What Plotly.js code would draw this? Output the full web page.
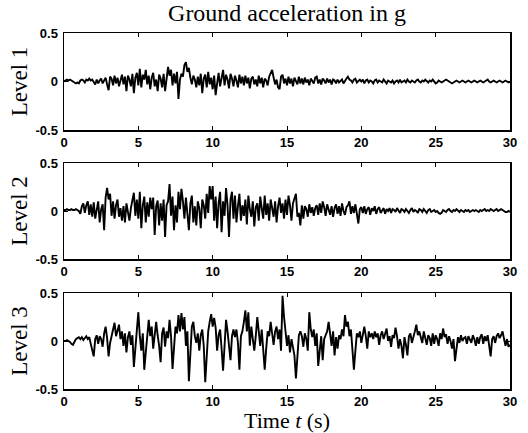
<!DOCTYPE html>
<html>
<head>
<meta charset="utf-8">
<script src="https://cdn.plot.ly/plotly-3.0.1.min.js"></script>
<style>html,body{margin:0;padding:0;background:#fff;}#chart{width:528px;height:433px;}</style>
</head>
<body>
<div id="chart"></div>
<script>
// Sampling step of the records (s)
const dt = 0.1;

// Ground acceleration (g), level 1, every 0.1 s
const level1 = [
 0, 0.01, 0.02, 0.01, 0.02, 0.01, 0, -0.01, -0.02, -0.01,
 -0.02, 0.01, 0.02, 0.01, -0.01, 0.02, 0.01, 0.03, 0.01, 0.02,
 -0.01, -0.03, 0.02, -0.02, 0.01, 0.03, -0.02, 0.01, 0.04, -0.03,
 -0.09, 0.05, 0.03, -0.04, 0.06, -0.02, 0.04, -0.05, 0.02, 0.07,
 -0.03, 0.05, -0.1, 0.06, 0.02, -0.05, 0.08, -0.12, 0.04, 0.09,
 -0.04, 0.13, -0.06, 0.07, 0.02, 0.12, -0.03, 0.06, -0.08, 0.04,
 0.09, -0.05, 0.02, -0.1, 0.07, 0.03, -0.06, 0.08, -0.1, 0.05,
 0.15, 0.06, 0.12, -0.04, 0.08, -0.02, 0.1, -0.18, 0.02, 0.08,
 0.05, 0.17, 0.2, 0.1, 0.14, 0.04, -0.03, 0.06, 0.02, -0.06,
 0.05, -0.04, 0.08, -0.12, 0.03, 0.07, -0.06, 0.1, -0.03, 0.04,
 -0.08, 0.06, -0.14, -0.02, 0.09, -0.05, 0.03, 0.12, -0.04, 0.07,
 0.02, -0.07, 0.08, 0.03, -0.05, 0.06, 0.01, -0.06, 0.07, -0.02,
 0.05, -0.04, 0.06, -0.02, 0.04, -0.07, 0.03, 0.05, -0.03, 0.02,
 -0.05, 0.06, -0.02, 0.04, -0.06, 0.03, 0.01, -0.04, 0.05, 0.08,
 0.12, 0.04, -0.03, 0.02, -0.06, -0.08, 0.05, 0.07, -0.02, 0.03,
 -0.04, 0.05, -0.02, 0.03, -0.05, 0.04, 0.01, -0.03, 0.05, -0.02,
 0.03, -0.03, 0.04, -0.01, 0.02, -0.04, 0.03, 0.01, -0.02, 0.04,
 0.05, -0.02, 0.02, -0.03, 0.03, 0.01, -0.02, 0.03, -0.01, 0.02,
 -0.03, 0.02, 0.01, -0.02, 0.02, -0.01, 0.01, 0.02, -0.02, 0.01,
 0.03, 0.05, 0.02, 0.01, -0.01, 0.02, 0.03, -0.01, 0.01, 0.02,
 0.0, 0.02, -0.02, 0.01, 0.02, -0.01, 0.01, 0.0, -0.02, 0.01,
 0.02, -0.01, 0.01, 0.0, -0.01, 0.02, 0.0, -0.02, 0.01, 0.0,
 -0.01, 0.01, -0.02, 0.0, 0.01, -0.01, 0.02, -0.01, 0.0, 0.01,
 -0.01, 0.02, 0.0, -0.01, 0.01, 0.0, -0.01, 0.01, 0.02, 0.0,
 -0.01, 0.01, 0.0, 0.02, 0.0, -0.01, 0.01, 0.0, 0.02, 0.0,
 -0.02, -0.01, 0.01, 0.0, -0.01, 0.0, 0.01, 0.02, 0.01, 0.0,
 -0.01, -0.02, -0.01, 0.0, 0.01, 0.0, -0.01, 0.0, 0.01, 0.0,
 -0.01, 0.0, 0.01, 0.0, -0.01, 0.0, 0.01, 0.0, -0.01, 0.0,
 0.01, 0.0, -0.01, 0.0, 0.01, 0.02, 0.0, -0.01, 0.0, 0.01,
 0.0, -0.01, 0.0, 0.01, 0.0, -0.01, 0.0, 0.01, 0.0, -0.01, 0.0
];

// Level 2
const level2 = [
 0.01, 0.01, 0.02, 0.01, 0.01, 0.02, 0.01, 0.01, 0.02, 0.01,
 0.0, -0.03, 0.05, 0.08, -0.02, 0.06, 0.1, -0.04, 0.07, -0.06,
 0.09, -0.08, 0.04, 0.1, -0.12, 0.02, 0.07, -0.2, 0.14, 0.24,
 0.12, 0.18, -0.05, 0.1, -0.08, 0.06, 0.12, -0.06, 0.03, -0.1,
 0.05, -0.12, 0.08, -0.04, -0.1, 0.03, 0.1, 0.19, -0.05, 0.12,
 -0.08, 0.2, -0.18, 0.06, 0.15, -0.12, 0.09, -0.06, 0.14, 0.02,
 0.14, -0.25, 0.05, 0.11, -0.15, 0.08, -0.1, 0.12, -0.27, 0.06,
 0.1, 0.28, -0.05, 0.15, -0.2, 0.06, -0.12, 0.2, 0.02, 0.23,
 0.1, -0.08, 0.14, -0.05, -0.2, 0.08, 0.16, -0.12, 0.05, -0.15,
 0.1, 0.03, -0.18, 0.12, 0.06, -0.08, 0.18, -0.02, 0.26, 0.12,
 0.26, -0.1, 0.15, -0.18, 0.08, 0.2, -0.22, 0.1, -0.05, 0.24,
 0.06, -0.27, 0.12, 0.2, -0.08, 0.16, -0.12, 0.05, 0.18, -0.1,
 0.06, -0.05, 0.12, -0.14, 0.16, 0.02, -0.06, 0.1, -0.16, 0.04,
 0.08, -0.1, 0.15, 0.03, -0.08, 0.16, -0.04, 0.08, -0.1, 0.12,
 0.02, -0.06, 0.1, -0.12, 0.05, 0.14, -0.02, 0.08, -0.08, 0.12,
 -0.04, 0.16, 0.06, -0.1, 0.08, 0.12, 0.18, -0.06, -0.02, -0.15,
 0.06, -0.08, 0.05, 0.02, -0.06, 0.07, -0.02, 0.04, -0.05, 0.03,
 0.06, -0.04, 0.08, -0.02, 0.1, 0.04, -0.05, 0.07, 0.01, -0.04,
 0.05, -0.06, 0.03, 0.07, -0.03, 0.05, -0.05, 0.08, 0.0, -0.04,
 0.04, 0.06, 0.1, -0.03, 0.05, -0.02, 0.07, -0.06, -0.13, 0.02,
 0.04, -0.02, 0.05, -0.03, 0.02, 0.04, -0.04, 0.03, 0.0, 0.05,
 -0.03, 0.02, 0.04, -0.02, 0.01, 0.03, -0.03, 0.02, 0.0, 0.03,
 -0.02, 0.02, 0.01, -0.01, 0.03, 0.0, -0.02, 0.02, 0.01, -0.01,
 0.02, 0.0, -0.02, 0.01, 0.03, -0.01, 0.01, 0.0, -0.02, 0.02,
 0.01, -0.01, 0.02, 0.0, -0.02, 0.01, 0.02, -0.01, 0.0, 0.01,
 -0.01, 0.0, -0.02, -0.03, -0.02, 0.01, 0.0, -0.01, 0.01, 0.02,
 0.0, -0.01, 0.01, 0.0, 0.02, 0.0, -0.01, 0.01, 0.0, -0.01,
 0.01, 0.0, 0.01, -0.01, 0.0, 0.01, 0.0, 0.01, 0.0, -0.01,
 0.01, 0.0, 0.01, 0.02, 0.0, 0.01, 0.0, 0.02, 0.01, 0.0,
 0.01, 0.02, 0.0, 0.01, 0.02, 0.01, 0.0, -0.01, -0.01, 0.0, -0.01
];

// Level 3
const level3 = [
 0.0, 0.0, 0.01, 0.0, -0.01, -0.03, -0.04, -0.01, 0.02, 0.03,
 0.04, 0.02, 0.04, 0.01, 0.03, 0.05, 0.02, 0.04, -0.03, -0.1,
 -0.16, 0.02, 0.06, -0.03, 0.05, 0.02, -0.06, 0.08, 0.15, 0.03,
 -0.16, -0.02, 0.06, 0.1, 0.19, 0.05, 0.12, 0.17, 0.02, 0.1,
 -0.05, 0.08, -0.12, 0.04, 0.1, -0.04, 0.06, -0.27, -0.08, 0.12,
 0.3, 0.05, -0.1, 0.08, -0.3, -0.12, 0.1, 0.22, 0.05, 0.15,
 -0.08, 0.1, 0.2, 0.06, -0.05, -0.22, 0.08, 0.14, -0.06, 0.1,
 0.03, 0.22, 0.05, -0.29, -0.1, 0.15, 0.08, 0.27, 0.1, 0.29,
 0.12, 0.25, -0.05, 0.1, -0.42, -0.1, 0.15, 0.2, 0.05, -0.02,
 0.08, -0.1, 0.06, 0.12, -0.05, -0.43, -0.15, 0.1, 0.2, 0.28,
 0.15, 0.24, 0.14, -0.1, 0.06, 0.12, -0.08, -0.31, -0.05, 0.22,
 0.1, -0.05, -0.2, 0.05, 0.12, 0.04, 0.12, -0.02, -0.3, 0.05,
 0.1, 0.2, 0.32, 0.1, 0.3, -0.05, 0.15, 0.02, -0.1, 0.05,
 0.25, 0.1, -0.05, 0.12, -0.15, -0.3, -0.08, 0.1, 0.05, 0.2,
 0.08, -0.04, 0.1, 0.15, 0.02, 0.12, -0.1, 0.47, 0.25, 0.05,
 -0.05, 0.06, -0.12, 0.02, -0.08, -0.15, -0.39, -0.1, 0.06, 0.1,
 0.05, -0.06, 0.08, 0.02, -0.1, 0.3, 0.12, 0.04, 0.12, -0.05,
 0.08, -0.26, -0.1, 0.05, -0.2, 0.02, 0.06, 0.1, 0.2, 0.08,
 -0.05, 0.1, -0.15, 0.04, -0.08, 0.06, 0.02, 0.12, 0.05, 0.27,
 0.15, 0.2, 0.05, 0.12, -0.05, -0.3, -0.1, 0.08, 0.04, 0.1,
 -0.02, 0.08, 0.15, 0.05, -0.08, 0.1, 0.04, 0.08, 0.02, 0.1,
 0.04, 0.08, -0.04, 0.06, 0.1, 0.02, 0.08, 0.13, 0.0, 0.05,
 -0.06, 0.06, 0.03, 0.14, 0.05, -0.08, 0.02, -0.05, -0.18, 0.04,
 -0.04, -0.15, 0.05, 0.08, -0.02, 0.06, 0.1, 0.17, 0.06, 0.1,
 0.04, -0.02, 0.1, 0.02, -0.04, 0.06, 0.03, -0.05, 0.08, -0.03,
 0.06, 0.02, -0.05, 0.08, 0.02, 0.13, 0.04, 0.07, -0.03, 0.05,
 0.0, -0.08, 0.02, -0.21, -0.05, 0.04, -0.02, 0.06, 0.0, 0.03,
 0.04, -0.03, 0.05, 0.02, -0.02, 0.06, 0.02, -0.05, 0.04, -0.03,
 0.04, 0.07, -0.03, 0.05, 0.0, 0.06, -0.04, -0.16, 0.02, 0.05,
 -0.02, 0.05, 0.08, 0.03, 0.06, 0.1, 0.02, -0.05, 0.02, -0.06, -0.04
];

const panelNames = ["Level 1", "Level 2", "Level 3"];
const xTicks = [0, 5, 10, 15, 20, 25, 30];
const yTicks = [-0.5, 0, 0.5];
const yTickText = ["-0.5", "0", "0.5"];

const series = [level1, level2, level3];
const time = level1.map((_, i) => +(i * dt).toFixed(2));

const W = 528, H = 433;
// panel pixel boxes [top, bottom]
const boxes = [[33, 130], [163, 259], [293, 389]];
const xLeft = 64, xRight = 510;

const serif = "Liberation Serif, Times New Roman, serif";
const sans = "Liberation Sans, Arial, sans-serif";

const traces = series.map((s, i) => ({
  x: time, y: s, type: "scatter", mode: "lines",
  line: {color: "#000", width: 1.9},
  xaxis: i === 0 ? "x" : "x" + (i + 1),
  yaxis: i === 0 ? "y" : "y" + (i + 1),
  showlegend: false, hoverinfo: "skip"
}));

const layout = {
  width: W, height: H,
  margin: {l: 0, r: 0, t: 0, b: 0},
  paper_bgcolor: "#fff", plot_bgcolor: "#fff",
  title: {
    text: "Ground acceleration in g",
    font: {family: serif, size: 24, color: "#000"},
    xref: "paper", x: ((xLeft + xRight) / 2) / W, xanchor: "center",
    yref: "container", y: 1 - 13 / H, yanchor: "middle"
  }
};

boxes.forEach((b, i) => {
  const sfx = i === 0 ? "" : String(i + 1);
  layout["xaxis" + sfx] = {
    domain: [xLeft / W, xRight / W],
    anchor: "y" + sfx,
    range: [0, 30],
    tickvals: xTicks, ticktext: xTicks.map(String),
    ticks: "inside", ticklen: 4, tickwidth: 1, tickcolor: "#000",
    showline: true, linecolor: "#000", linewidth: 1.5, mirror: "ticks",
    showgrid: false, zeroline: false,
    tickfont: {family: sans, size: 13, color: "#000", weight: "bold"},
    ticklabelstandoff: 0
  };
  layout["yaxis" + sfx] = {
    domain: [1 - b[1] / H, 1 - b[0] / H],
    anchor: "x" + sfx,
    range: [-0.5, 0.5],
    tickvals: yTicks, ticktext: yTickText,
    ticks: "inside", ticklen: 4, tickwidth: 1, tickcolor: "#000",
    showline: true, linecolor: "#000", linewidth: 1.5, mirror: "ticks",
    showgrid: false, zeroline: false,
    tickfont: {family: sans, size: 13, color: "#000", weight: "bold"},
    ticklabelstandoff: 2,
    title: {text: panelNames[i], font: {family: serif, size: 23, color: "#000"}, standoff: 1}
  };
});
layout.xaxis3.title = {text: "Time <i>t</i> (s)", font: {family: serif, size: 22, color: "#000"}, standoff: 2};

Plotly.newPlot("chart", traces, layout, {staticPlot: true, displayModeBar: false});
</script>
</body>
</html>
